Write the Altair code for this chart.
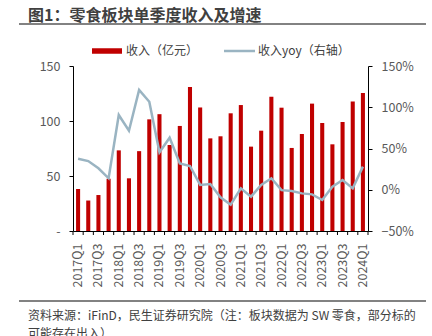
import altair as alt
import pandas as pd

FONT = "Noto Sans CJK SC"

quarters = ["2017Q1", "2017Q2", "2017Q3", "2017Q4",
            "2018Q1", "2018Q2", "2018Q3", "2018Q4",
            "2019Q1", "2019Q2", "2019Q3", "2019Q4",
            "2020Q1", "2020Q2", "2020Q3", "2020Q4",
            "2021Q1", "2021Q2", "2021Q3", "2021Q4",
            "2022Q1", "2022Q2", "2022Q3", "2022Q4",
            "2023Q1", "2023Q2", "2023Q3", "2023Q4",
            "2024Q1"]
revenue = [38.2, 27.7, 32.7, 47.5, 73.3, 47.9, 72.6, 101.5, 106.2, 78.2,
           95.5, 131.0, 112.3, 84.2, 86.1, 107.0, 114.5, 76.7, 91.2, 122.0,
           112.1, 75.5, 88.2, 115.8, 98.2, 78.8, 99.1, 117.8, 125.5]
yoy_pct = [37.6, 34.8, 26.0, 13.9, 90.6, 71.6, 120.9, 106.7, 45.4, 63.1,
           32.0, 28.8, 5.8, 7.0, -9.2, -18.1, 1.7, -8.4, 5.8, 13.9,
           -0.5, -1.5, -4.4, -5.6, -12.4, 3.7, 11.8, 1.7, 28.0]

df = pd.DataFrame({"q": quarters, "rev": revenue,
                   "yoy": [v / 100 for v in yoy_pct]})

W, H = 295, 165
STEP = W / len(quarters)

x_axis = alt.Axis(
    labelAngle=270, labelAlign="right", labelBaseline="middle",
    labelOverlap=False, ticks=False,
    labelExpr="(indexof(datum.value,'Q1')>=0 || indexof(datum.value,'Q3')>=0) ? datum.value : ''",
    domainColor="black", labelPadding=12,
    labelFontSize=12.5, labelColor="#595959", labelFont=FONT, title=None,
)
x_scale = alt.Scale(paddingInner=0.6, paddingOuter=0.3)

bars = alt.Chart(df).mark_bar(color="#C00000").encode(
    x=alt.X("q:N", sort=quarters, scale=x_scale, axis=x_axis),
    y=alt.Y("rev:Q", scale=alt.Scale(domain=[0, 150], nice=False),
            axis=alt.Axis(values=[0, 50, 100, 150],
                          labelExpr="datum.value == 0 ? '-' : datum.label",
                          title=None, grid=False, domainColor="black",
                          tickColor="black", tickSize=4, labelPadding=9,
                          labelFontSize=12.5, labelColor="#595959",
                          labelFont=FONT)),
)

line = alt.Chart(df).mark_line(color="#9AB4C2", strokeWidth=2.5).encode(
    x=alt.X("q:N", sort=quarters),
    y=alt.Y("yoy:Q", scale=alt.Scale(domain=[-0.5, 1.5], nice=False),
            axis=alt.Axis(orient="right", format=".0%",
                          values=[-0.5, 0, 0.5, 1.0, 1.5],
                          title=None, grid=False, domainColor="black",
                          tickColor="black", tickSize=4, labelPadding=9,
                          labelFontSize=12.5, labelColor="#595959",
                          labelFont=FONT)),
)

data_layer = alt.layer(bars, line).resolve_scale(y="independent")

# category-boundary ticks on the x axis (between quarters)
xticks = alt.Chart(df).mark_rule(color="black", strokeWidth=1,
                                 xOffset=-STEP / 2).encode(
    x=alt.X("q:N", sort=quarters, scale=x_scale, axis=x_axis),
    y=alt.value(H), y2=alt.value(H + 4))
xtick_end = alt.Chart(df).transform_filter("datum.q == '2024Q1'").mark_rule(
    color="black", strokeWidth=1, xOffset=STEP / 2).encode(
    x=alt.X("q:N", sort=quarters, scale=x_scale, axis=x_axis),
    y=alt.value(H), y2=alt.value(H + 4))

base = alt.Chart(df).transform_filter("datum.q == '2017Q1'")
title = base.mark_text(text="图1：零食板块单季度收入及增速", align="left",
                       baseline="middle", fontSize=16, fontWeight="bold",
                       color="#404040", font=FONT).encode(
    x=alt.value(-45), y=alt.value(-50.5))
title_rule = base.mark_rule(color="#595959", strokeWidth=1.5).encode(
    x=alt.value(-54), x2=alt.value(353), y=alt.value(-42))
leg_bar = base.mark_rule(color="#C00000", strokeWidth=5.5).encode(
    x=alt.value(19), x2=alt.value(49), y=alt.value(-15))
leg_bar_t = base.mark_text(text="收入（亿元）", align="left", baseline="middle",
                           fontSize=12, color="#404040", font=FONT).encode(
    x=alt.value(53), y=alt.value(-15))
leg_line = base.mark_rule(color="#9AB4C2", strokeWidth=2.5).encode(
    x=alt.value(151), x2=alt.value(182), y=alt.value(-15))
leg_line_t = base.mark_text(text="收入yoy（右轴）", align="left", baseline="middle",
                            fontSize=12, color="#404040", font=FONT).encode(
    x=alt.value(185), y=alt.value(-15))
foot_rule = base.mark_rule(color="#595959", strokeWidth=1.5).encode(
    x=alt.value(-54), x2=alt.value(353), y=alt.value(235))
foot_t1 = base.mark_text(text="资料来源：iFinD，民生证券研究院（注：板块数据为 SW 零食，部分标的",
                         align="left", baseline="middle", fontSize=12,
                         color="#404040", font=FONT).encode(
    x=alt.value(-45), y=alt.value(249.5))
foot_t2 = base.mark_text(text="可能存在出入）", align="left", baseline="middle",
                         fontSize=12, color="#404040", font=FONT).encode(
    x=alt.value(-45), y=alt.value(268))

chart = alt.layer(
    data_layer, xticks, xtick_end, title, title_rule, leg_bar, leg_bar_t,
    leg_line, leg_line_t, foot_rule, foot_t1, foot_t2
).properties(
    width=W, height=H,
    autosize=alt.AutoSizeParams(type="none"),
    padding={"left": 73, "top": 66, "right": 64, "bottom": 105},
    background="white",
).configure_view(stroke=None)

chart.save("out.html", embed_options={"renderer": "svg", "actions": False})
